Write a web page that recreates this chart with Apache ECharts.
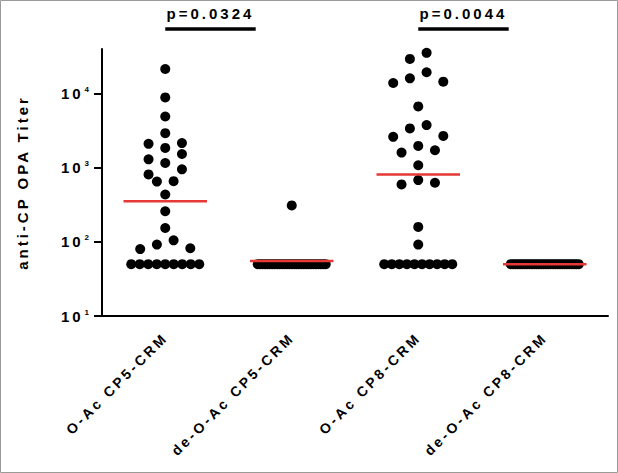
<!DOCTYPE html>
<html>
<head>
<meta charset="utf-8">
<script src="https://cdn.jsdelivr.net/npm/echarts@6/dist/echarts.min.js"></script>
<style>
  html, body { margin: 0; padding: 0; background: #fff; }
  #chart { width: 618px; height: 473px; }
  #chart text { letter-spacing: 3px; }
</style>
</head>
<body>
<div id="chart"></div>
<script>
// ---------------- data ----------------
const categories = ['O-Ac CP5-CRM', 'de-O-Ac CP5-CRM', 'O-Ac CP8-CRM', 'de-O-Ac CP8-CRM'];

const titersOAcCP5 = [21500, 8900, 4920, 2925, 2150, 2100, 1850, 1535, 1300, 1158,
  951, 814, 660, 650, 436, 259, 154, 105, 92, 82, 80,
  50, 50, 50, 50, 50, 50, 50, 50, 50];
const titersDeOAcCP5 = [310,
  50, 50, 50, 50, 50, 50, 50, 50, 50, 50, 50, 50, 50, 50, 50,
  50, 50, 50, 50, 50, 50, 50, 50, 50, 50, 50, 50, 50, 50];
const titersOAcCP8 = [35500, 29400, 19400, 16100, 14500, 13900, 6730, 3760, 3390, 2690,
  2610, 1970, 1720, 1600, 1080, 681, 628, 596, 159, 92,
  50, 50, 50, 50, 50, 50, 50, 50, 50, 50];
const titersDeOAcCP8 = [50, 50, 50, 50, 50, 50, 50, 50, 50, 50, 50, 50, 50, 50, 50,
  50, 50, 50, 50, 50, 50, 50, 50, 50, 50, 50, 50, 50, 50, 50];

const medians = [354, 55, 814, 50];
const yTickValues = [10, 100, 1000, 10000];
const yAxisMin = 10;
const yAxisMax = 40000;
const pValueLabels = ['p=0.0324', 'p=0.0044'];
const pValuePairs = [[0, 1], [2, 3]];

// ---------------- chart ----------------
const groups = [titersOAcCP5, titersDeOAcCP5, titersOAcCP8, titersDeOAcCP8];
const FONT = '"Liberation Sans", Arial, sans-serif';
const ROW_HEIGHT = 12, ROW_SPACING = 16.7, MAX_ROW_SPAN = 68;
const lg = v => Math.log10(v);

const chart = echarts.init(document.getElementById('chart'), null, { renderer: 'svg' });

const baseOption = {
  animation: false,
  backgroundColor: '#fff',
  grid: { left: 102, right: 10, top: 49, bottom: 157 },
  xAxis: [
    {
      type: 'category', data: categories, boundaryGap: true,
      axisLine: { onZero: false, lineStyle: { color: '#000', width: 2 } },
      axisTick: { alignWithLabel: true, length: 8, lineStyle: { color: '#000', width: 2 } },
      axisLabel: { interval: 0, rotate: 45, margin: 19, color: '#000', fontFamily: FONT, fontWeight: 'bold', fontSize: 14 },
      splitLine: { show: false }
    },
    { type: 'value', min: -0.5, max: 3.5, show: false }
  ],
  yAxis: {
    type: 'value', min: lg(yAxisMin), max: lg(yAxisMax),
    axisLine: { show: true, onZero: false, lineStyle: { color: '#000', width: 2 } },
    axisTick: { show: true, customValues: yTickValues.map(lg), length: 8, lineStyle: { color: '#000', width: 2 } },
    axisLabel: {
      customValues: yTickValues.map(lg), margin: 10, color: '#000',
      formatter: v => '{b|10}{s|' + Math.round(v) + '}',
      rich: {
        b: { fontFamily: FONT, fontWeight: 'bold', fontSize: 15, color: '#000', lineHeight: 16 },
        s: { fontFamily: FONT, fontWeight: 'bold', fontSize: 8, color: '#000', verticalAlign: 'top', lineHeight: 16, padding: [0, 0, 0, 4] }
      }
    },
    splitLine: { show: false },
    name: 'anti-CP OPA Titer', nameLocation: 'middle', nameGap: 72,
    nameTextStyle: { fontFamily: FONT, fontWeight: 'bold', fontSize: 15, color: '#000' }
  },
  series: [
    { type: 'scatter', xAxisIndex: 1, yAxisIndex: 0, symbol: 'circle', symbolSize: 10,
      itemStyle: { color: '#000', opacity: 1 }, data: [], z: 2 },
    { type: 'custom', xAxisIndex: 1, yAxisIndex: 0, z: 5,
      data: medians.map((m, i) => [i, lg(m)]),
      renderItem: (params, api) => {
        const x = api.value(0), y = api.value(1);
        const p1 = api.coord([x - 0.33, y]);
        const p2 = api.coord([x + 0.33, y]);
        return { type: 'line', shape: { x1: p1[0], y1: p1[1], x2: p2[0], y2: p2[1] },
                 style: { stroke: '#e53935', lineWidth: 2.5 } };
      }
    }
  ]
};
chart.setOption(baseOption);

// beeswarm-like row layout computed through the axes' scales
const xPix = i => chart.convertToPixel({ xAxisIndex: 1 }, i);
const yPix = v => chart.convertToPixel({ yAxisIndex: 0 }, v);
const unit = xPix(1) - xPix(0);

function layoutGroup(values, gi) {
  const pts = values.map(v => ({ v, ly: lg(v), py: yPix(lg(v)) }));
  pts.sort((a, b) => a.py - b.py);
  const rows = [];
  let cur = null;
  pts.forEach(p => {
    if (!cur || p.py - cur.start >= ROW_HEIGHT) { cur = { start: p.py, pts: [] }; rows.push(cur); }
    cur.pts.push(p);
  });
  rows.forEach(r => {
    const n = r.pts.length;
    const s = n > 1 ? Math.min(ROW_SPACING, MAX_ROW_SPAN / (n - 1)) : 0;
    const slots = [];
    for (let k = 0; k < n; k++) slots.push((k - (n - 1) / 2) * s);
    slots.sort((a, b) => Math.abs(a) - Math.abs(b) || b - a);
    r.pts.forEach((p, k) => { p.dx = slots[k]; });
  });
  return pts.map(p => [gi + p.dx / unit, p.ly]);
}

const scatterData = [];
groups.forEach((vals, gi) => layoutGroup(vals, gi).forEach(d => scatterData.push(d)));

const graphics = [
  { type: 'rect', silent: true, shape: { x: 0.5, y: 0.5, width: 617, height: 472 },
    style: { fill: 'none', stroke: '#9a9a9a', lineWidth: 1 } }
];
pValuePairs.forEach((pair, k) => {
  const x1 = xPix(pair[0]);
  const x2 = x1 + 0.715 * (xPix(pair[1]) - x1);
  graphics.push({ type: 'line', silent: true, shape: { x1: x1, y1: 29, x2: x2, y2: 29 },
                  style: { stroke: '#000', lineWidth: 3.5 } });
  graphics.push({ type: 'text', silent: true, x: (x1 + x2) / 2, y: 13,
                  style: { text: pValueLabels[k], fill: '#000', fontFamily: FONT, fontWeight: 'bold', fontSize: 15,
                           align: 'center', verticalAlign: 'middle' } });
});

chart.setOption({ series: [{ data: scatterData }], graphic: graphics });
</script>
</body>
</html>
